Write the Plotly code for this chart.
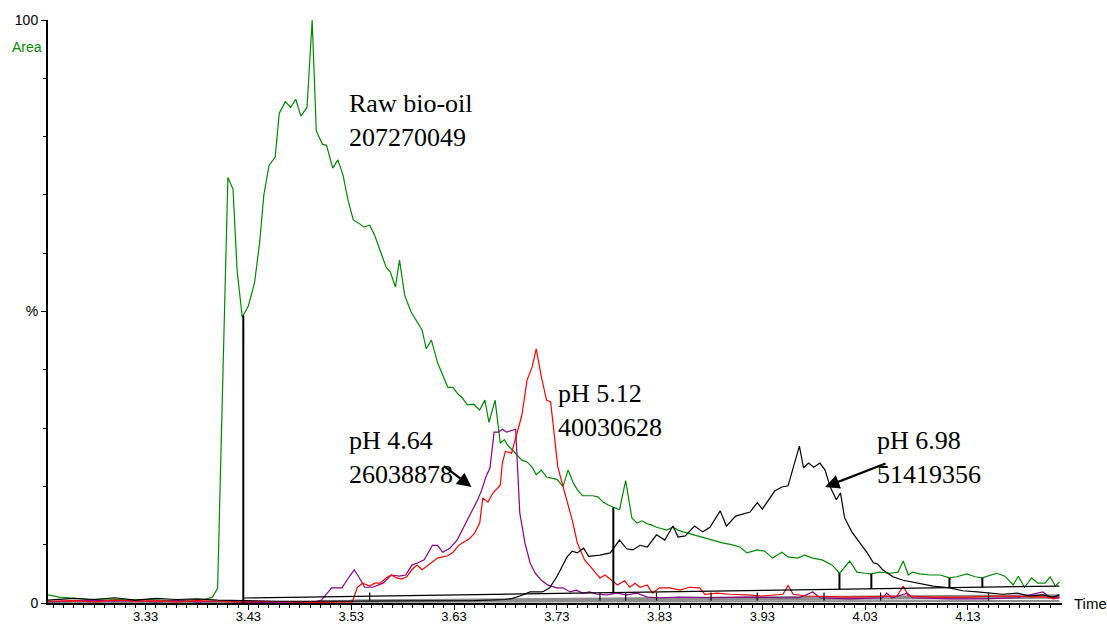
import numpy as np
import plotly.graph_objects as go

# ---------------- data (time in min, intensity in %) ----------------
raw_t = [3.235, 3.246, 3.261, 3.275, 3.295, 3.314, 3.334, 3.353, 3.373, 3.387, 3.395, 3.400, 3.405,
         3.410, 3.415, 3.419, 3.424, 3.430, 3.436, 3.441, 3.445, 3.450, 3.456, 3.460, 3.466, 3.471,
         3.476, 3.481, 3.487, 3.492, 3.496, 3.502, 3.506, 3.512, 3.517, 3.522, 3.527, 3.532, 3.537,
         3.542, 3.548, 3.553, 3.558, 3.564, 3.568, 3.573, 3.577, 3.582, 3.588, 3.593, 3.599, 3.603,
         3.608, 3.614, 3.619, 3.624, 3.629, 3.634, 3.638, 3.643, 3.649, 3.655, 3.660, 3.664, 3.670,
         3.675, 3.679, 3.682, 3.687, 3.692, 3.696, 3.701, 3.706, 3.710, 3.715, 3.720, 3.725, 3.730,
         3.736, 3.741, 3.746, 3.750, 3.755, 3.760, 3.765, 3.770, 3.775, 3.780, 3.786, 3.791, 3.797,
         3.803, 3.808, 3.813, 3.818, 3.822, 3.827, 3.832, 3.837, 3.843, 3.848, 3.853, 3.857, 3.864,
         3.872, 3.881, 3.891, 3.900, 3.908, 3.915, 3.925, 3.932, 3.940, 3.949, 3.955, 3.964, 3.971,
         3.979, 3.988, 3.998, 4.005, 4.015, 4.022, 4.030, 4.036, 4.044, 4.054, 4.062, 4.067, 4.072,
         4.076, 4.083, 4.093, 4.103, 4.112, 4.119, 4.129, 4.137, 4.144, 4.149, 4.158, 4.166, 4.174,
         4.179, 4.185, 4.192, 4.198, 4.205, 4.210, 4.215, 4.219]
raw_v = [1.4, 1.0, 0.8, 0.6, 0.7, 0.5, 0.6, 0.4, 0.5, 0.6, 1.0, 2.5, 38,
         73, 71, 57, 49, 51, 55, 62, 70, 75, 76.5, 84, 86, 85,
         86.4, 83.5, 85, 100, 81, 78.7, 78.5, 74.6, 76, 73.4, 69, 65.7, 65.2,
         64.5, 64.8, 63, 60.5, 57.6, 56.8, 54.2, 58.8, 52.8, 50, 48.5, 46.8, 43.6,
         45.1, 41.2, 39.1, 37, 37, 35.8, 35.2, 34, 34.1, 33.1, 34.8, 31, 34.8,
         27.4, 28, 27.1, 26.2, 25.2, 24.5, 24.2, 23.3, 22, 22.8, 21.6, 21.4, 21.2,
         20, 22.8, 20.6, 19.4, 18.4, 18.4, 18.4, 18.2, 17.3, 16.8, 16.3, 16, 21,
         14.6, 13.7, 14.1, 13.6, 13.4, 13, 12.7, 12.5, 13, 12.5, 12.2, 12, 11.7,
         11.3, 10.8, 10.3, 10, 9.6, 8.6, 9.1, 8.9, 7.7, 8.7, 7.9, 7.7, 8.2,
         7.7, 7.4, 6.5, 5.1, 7.2, 5.3, 5.1, 5.0, 5.3, 5.1, 5.3, 7.2, 4.8,
         5.3, 5.0, 4.8, 4.8, 4.3, 4.5, 5.0, 4.5, 4.3, 4.6, 5.1, 4.6, 3.1,
         4.6, 2.7, 4.3, 3.4, 3.4, 4.5, 2.9, 3.6]

ph698_t = [3.235, 3.26, 3.28, 3.30, 3.32, 3.34, 3.36, 3.38, 3.40, 3.43, 3.46, 3.50, 3.55, 3.60, 3.65,
           3.68, 3.687, 3.694, 3.704, 3.716, 3.723, 3.730, 3.740, 3.745, 3.750, 3.756, 3.761, 3.772,
           3.782, 3.791, 3.798, 3.804, 3.811, 3.818, 3.827, 3.835, 3.843, 3.848, 3.855, 3.864, 3.872,
           3.879, 3.889, 3.895, 3.904, 3.918, 3.925, 3.930, 3.942, 3.949, 3.955, 3.966, 3.970, 3.975,
           3.980, 3.986, 3.991, 3.996, 4.002, 4.006, 4.010, 4.017, 4.025, 4.032, 4.038, 4.042, 4.047,
           4.057, 4.067, 4.080, 4.096, 4.112, 4.125, 4.139, 4.151, 4.164, 4.178, 4.190, 4.203, 4.213,
           4.219]
ph698_v = [0.5, 0.8, 0.6, 0.9, 0.5, 0.8, 0.6, 0.7, 0.5, 0.4, 0.3, 0.3, 0.3, 0.3, 0.4,
           0.6, 0.8, 1.2, 1.9, 1.9, 2.6, 4.5, 7.9, 8.9, 8.6, 9.4, 8.0, 8.2,
           8.6, 10.8, 9.3, 9.1, 9.9, 9.6, 11.7, 10.8, 13.2, 11.3, 11.5, 13.2, 12.2,
           13.0, 15.8, 13.2, 14.9, 15.6, 17.2, 16.1, 19.2, 19.9, 20.1, 26.9, 23.2, 24.0,
           23.3, 24.0, 22.8, 19.9, 17.7, 18.9, 14.6, 12.2, 10.3, 8.6, 6.9, 6.7, 5.7,
           4.5, 3.9, 3.4, 2.9, 2.6, 2.1, 1.9, 1.7, 1.5, 1.7, 1.2, 1.4, 1.0,
           1.4]

ph512_t = [3.235, 3.26, 3.28, 3.30, 3.32, 3.34, 3.36, 3.38, 3.40, 3.42, 3.44, 3.46, 3.48, 3.50, 3.52,
           3.531, 3.536, 3.541, 3.548, 3.553, 3.558, 3.564, 3.569, 3.574, 3.579, 3.584, 3.589, 3.594,
           3.599, 3.603, 3.608, 3.614, 3.619, 3.624, 3.629, 3.634, 3.638, 3.645, 3.650, 3.655, 3.658,
           3.663, 3.668, 3.675, 3.677, 3.680, 3.686, 3.691, 3.696, 3.701, 3.706, 3.710, 3.715, 3.720,
           3.724, 3.731, 3.738, 3.745, 3.750, 3.757, 3.764, 3.772, 3.777, 3.784, 3.789, 3.796, 3.801,
           3.806, 3.811, 3.818, 3.823, 3.830, 3.840, 3.850, 3.859, 3.869, 3.874, 3.886, 3.898, 3.915,
           3.930, 3.950, 3.955, 3.960, 3.973, 4.015, 4.047, 4.061, 4.067, 4.072, 4.096, 4.129, 4.161,
           4.193, 4.207, 4.213, 4.219]
ph512_v = [0.3, 0.4, 0.2, 0.5, 0.3, 0.4, 0.2, 0.4, 0.3, 0.2, 0.3, 0.2, 0.2, 0.1, 0.2,
           0.2, 2.7, 3.4, 2.9, 3.4, 3.4, 4.3, 4.8, 4.3, 4.1, 4.5, 5.7, 6.5,
           5.7, 6.2, 6.9, 7.7, 7.9, 8.1, 8.7, 9.8, 10.3, 11.0, 12.0, 13.7, 18.0,
           17.3, 18.9, 20.2, 24.0, 26.0, 25.7, 29.2, 32.2, 38.2, 40.5, 43.6, 38.8, 34.8,
           34.5, 23.3, 18.9, 14.2, 10.3, 7.4, 6.0, 4.3, 4.8, 3.9, 3.1, 3.8, 2.7,
           3.4, 2.7, 3.1, 1.7, 2.6, 2.6, 2.2, 2.7, 2.6, 1.5, 1.7, 1.5, 1.4,
           1.2, 1.5, 3.0, 1.5, 1.2, 1.0, 1.2, 1.2, 2.9, 1.2, 1.0, 1.0, 1.2,
           1.0, 1.0, 0.7, 0.9]

ph464_t = [3.235, 3.26, 3.28, 3.30, 3.32, 3.34, 3.36, 3.38, 3.40, 3.42, 3.44, 3.46, 3.48, 3.495,
           3.501, 3.511, 3.521, 3.528, 3.533, 3.538, 3.543, 3.551, 3.561, 3.569, 3.577, 3.583, 3.589,
           3.595, 3.601, 3.609, 3.614, 3.619, 3.626, 3.633, 3.638, 3.643, 3.648, 3.653, 3.657, 3.661,
           3.665, 3.669, 3.673, 3.677, 3.681, 3.686, 3.690, 3.694, 3.699, 3.704, 3.709, 3.715, 3.721,
           3.730, 3.736, 3.743, 3.749, 3.755, 3.762, 3.769, 3.779, 3.788, 3.798, 3.808, 3.818, 3.830,
           3.850, 3.882, 3.915, 3.947, 3.966, 3.979, 3.986, 4.015, 4.047, 4.051, 4.056, 4.071, 4.076,
           4.112, 4.145, 4.178, 4.203, 4.210, 4.219]
ph464_v = [0.2, 0.3, 0.5, 0.3, 0.4, 0.2, 0.4, 0.2, 0.3, 0.2, 0.1, 0.2, 0.1, 0.2,
           0.5, 2.6, 2.6, 4.5, 5.7, 4.3, 2.7, 2.7, 3.4, 4.8, 4.6, 4.8, 6.5,
           6.9, 7.4, 9.9, 9.9, 8.7, 9.4, 10.8, 12.5, 14.2, 16.0, 17.7, 19.4, 21.6,
           23.2, 29.3, 29.3, 29.8, 29.3, 29.6, 29.8, 15.4, 10.3, 6.9, 5.1, 3.9, 3.1,
           2.6, 2.6, 1.9, 2.2, 1.7, 1.9, 1.5, 1.4, 1.7, 1.4, 1.7, 1.0, 0.9,
           1.0, 0.9, 1.0, 0.9, 0.9, 1.9, 0.9, 0.7, 0.9, 1.7, 0.9, 1.7, 0.9,
           0.7, 0.7, 0.9, 1.9, 0.9, 1.0]

# integration baseline of raw bio-oil peak and drop-line times
raw_base_t = [3.425, 4.219]
raw_base_v = [0.86, 2.9]
drop_t = [3.425, 3.785, 4.005, 4.036, 4.112, 4.144]

# other (grey) integration baselines
grey_base = [([3.235, 4.219], [0.15, 0.35]),
             ([3.50, 4.219], [0.35, 0.9]),
             ([3.53, 4.219], [0.45, 1.35]),
             ([3.69, 4.219], [0.3, 1.1])]
small_drop_t = [3.548, 3.772, 3.797, 3.827, 3.880, 3.925, 3.990, 4.045, 4.150]

x_ticks_major = [3.33, 3.43, 3.53, 3.63, 3.73, 3.83, 3.93, 4.03, 4.13]

labels = [
    ("Raw bio-oil<br>207270049", 3.526, 82.7),
    ("pH 5.12<br>40030628", 3.729, 33.1),
    ("pH 4.64<br>26038878", 3.526, 24.9),
    ("pH 6.98<br>51419356", 4.0395, 24.9),
]
arrows = [  # head (t, %), tail offset px
    (3.647, 19.9, -29, -22),
    (3.991, 19.9, 62, -24),
]

GREEN = "#008a00"
RED = "#ff0000"
PURPLE = "#8a008a"
BLACK = "#000000"

fig = go.Figure()

# grey baselines
for bt, bv in grey_base:
    fig.add_trace(go.Scatter(x=bt, y=bv, mode="lines",
                             line=dict(color="#8c8c8c", width=2), hoverinfo="skip"))

# traces
fig.add_trace(go.Scatter(x=raw_t, y=raw_v, mode="lines", line=dict(color=GREEN, width=1.2)))
fig.add_trace(go.Scatter(x=ph464_t, y=ph464_v, mode="lines", line=dict(color=PURPLE, width=1.2)))
fig.add_trace(go.Scatter(x=ph512_t, y=ph512_v, mode="lines", line=dict(color=RED, width=1.2)))
fig.add_trace(go.Scatter(x=ph698_t, y=ph698_v, mode="lines", line=dict(color=BLACK, width=1.2)))

# raw bio-oil baseline + drop lines
fig.add_trace(go.Scatter(x=raw_base_t, y=raw_base_v, mode="lines",
                         line=dict(color=BLACK, width=1.2)))
dx, dy = [], []
for i, t in enumerate(drop_t):
    top = float(np.interp(t, raw_t, raw_v))
    bot = 0.0 if i == 0 else float(np.interp(t, raw_base_t, raw_base_v))
    dx += [t, t, None]
    dy += [bot, top, None]
fig.add_trace(go.Scatter(x=dx, y=dy, mode="lines", line=dict(color=BLACK, width=2)))

# small drop lines of other peaks
sx, sy = [], []
for t in small_drop_t:
    sx += [t, t, None]
    sy += [0.4, 1.8, None]
fig.add_trace(go.Scatter(x=sx, y=sy, mode="lines", line=dict(color=BLACK, width=1.2)))

annotations = []
for txt, tx, ty in labels:
    annotations.append(dict(x=tx, y=ty, xref="x", yref="y", text=txt, showarrow=False,
                            xanchor="left", yanchor="middle", align="left",
                            font=dict(family="Liberation Serif, Times New Roman, serif",
                                      size=26, color="black")))
for hx, hy, axo, ayo in arrows:
    annotations.append(dict(x=hx, y=hy, xref="x", yref="y", text="", showarrow=True,
                            ax=axo, ay=ayo, arrowhead=2, arrowsize=1.3, arrowwidth=2.2,
                            arrowcolor="black"))
annotations.append(dict(x=1, y=0, xref="paper", yref="paper", text="Time", showarrow=False,
                        xanchor="left", yanchor="middle", xshift=10,
                        font=dict(family="Liberation Sans, Arial, sans-serif", size=15, color="black")))
annotations.append(dict(x=0, y=1, xref="paper", yref="paper", text="Area", showarrow=False,
                        xanchor="right", yanchor="middle", xshift=-4, yshift=-27,
                        font=dict(family="Liberation Sans, Arial, sans-serif", size=14, color=GREEN)))

x_major = list(np.round(np.arange(3.28, 4.20, 0.05), 2))
x_text = [f"{v:.2f}" if any(abs(v - m) < 1e-6 for m in x_ticks_major) else "" for v in x_major]
x_minor = list(np.round(np.arange(3.24, 4.22, 0.01), 2))

fig.update_layout(
    width=1107, height=625,
    margin=dict(l=48, r=45, t=20, b=22, autoexpand=False),
    paper_bgcolor="white", plot_bgcolor="white",
    showlegend=False,
    annotations=annotations,
    font=dict(family="Liberation Sans, Arial, sans-serif", size=14, color="black"),
    xaxis=dict(range=[3.235, 4.2215], showgrid=False, zeroline=False, automargin=False,
               showline=True, linecolor="black", linewidth=2,
               tickmode="array", tickvals=x_major, ticktext=x_text,
               ticks="outside", ticklen=5, tickwidth=1.2, tickcolor="black",
               tickfont=dict(size=13), ticklabelstandoff=-5,
               minor=dict(tickmode="array", tickvals=x_minor, ticks="outside",
                          ticklen=3, tickwidth=1, tickcolor="black")),
    yaxis=dict(range=[0, 100], showgrid=False, zeroline=False, automargin=False,
               showline=True, linecolor="black", linewidth=2,
               tickmode="array", tickvals=[0, 50, 100], ticktext=["0", "%", "100"],
               ticks="outside", ticklen=5, tickwidth=1.2, tickcolor="black",
               tickfont=dict(size=14),
               minor=dict(tickmode="array", tickvals=list(range(10, 100, 10)),
                          ticks="outside", ticklen=3, tickwidth=1, tickcolor="black")),
)

fig.write_html("out.html")
